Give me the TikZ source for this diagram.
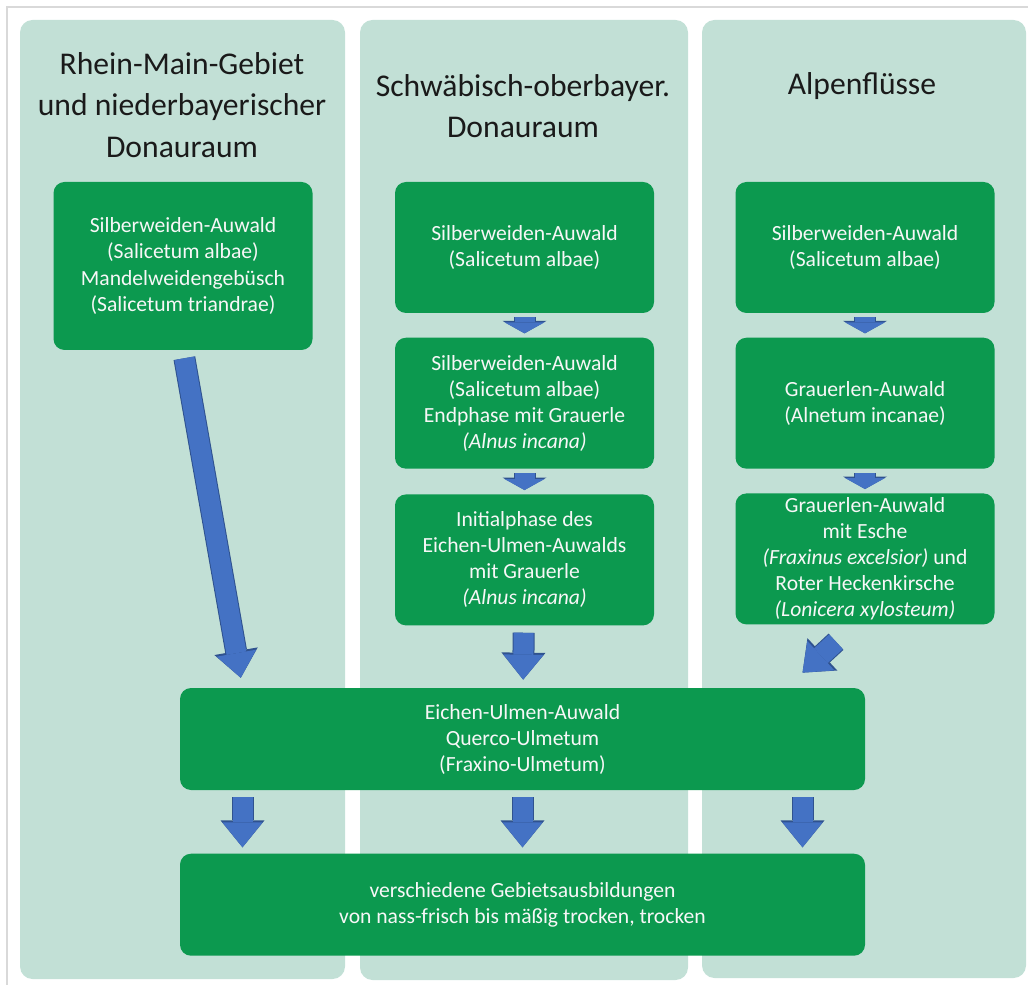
\documentclass[tikz,border=0pt]{standalone}
\usepackage{fontspec}
\setmainfont{Carlito}
\usepackage{xcolor}
\usetikzlibrary{arrows.meta,positioning}

\definecolor{colbg}{RGB}{194,224,214}
\definecolor{boxgreen}{RGB}{12,153,79}
\definecolor{arrblue}{RGB}{68,114,196}
\definecolor{arrdark}{RGB}{47,82,143}
\definecolor{titletext}{RGB}{26,26,26}

\begin{document}
\begin{tikzpicture}[
        col/.style={fill=colbg, rounded corners=0.25cm},
        title/.style={align=center, text=titletext, font=\fontsize{18}{23.5}\selectfont},
        box/.style={fill=boxgreen, rounded corners=0.22cm, text=white!94!gray, align=center, inner sep=0pt,
            font=\fontsize{12.3}{14.8}\selectfont, minimum width=5.18cm, minimum height=2.62cm},
        wide/.style={box, minimum width=13.7cm, minimum height=2.04cm},
        flow/.style={draw=arrblue, line width=0.4cm, -{Triangle[width=0.8cm,length=0.5cm,line width=0pt]},
            preaction={draw=arrdark, line width=0.44cm, -{Triangle[width=0.88cm,length=0.54cm,line width=0pt]}}},
        stepflow/.style={draw=arrblue, line width=0.4cm, -{Triangle[width=0.8cm,length=0.22cm,line width=0pt]},
            preaction={draw=arrdark, line width=0.44cm, -{Triangle[width=0.88cm,length=0.25cm,line width=0pt]}},
            shorten <=0.08cm, shorten >=0.08cm}
    ]
        \useasboundingbox (0,0) rectangle (20.56,-19.70);
        \draw[gray!30, line width=0.6pt] (20.56,-0.14) -- (0.14,-0.14) -- (0.14,-19.70);

        % columns
        \fill[col] (0.40,-0.40) rectangle (6.90,-19.58);
        \fill[col] (7.20,-0.40) rectangle (13.76,-19.60);
        \fill[col] (14.04,-0.40) rectangle (20.52,-19.56);

        \node[title] (t1) at (3.64,-2.10) {Rhein-Main-Gebiet\\und niederbayerischer\\Donauraum};
        \node[title] (t2) at (10.46,-2.12) {Schwäbisch-oberbayer.\\Donauraum};
        \node[title] (t3) at (17.24,-1.72) {Alpenflüsse};

        \node[box, minimum height=3.36cm] (rm) at (3.66,-5.32) {Silberweiden-Auwald\\(Salicetum albae)\\Mandelweidengebüsch\\(Salicetum triandrae)};

        \node[box] (sw1) at (10.49,-4.95) {Silberweiden-Auwald\\(Salicetum albae)};
        \node[box, below=0.48cm of sw1] (sw2) {Silberweiden-Auwald\\(Salicetum albae)\\Endphase mit Grauerle\\\textit{(Alnus incana)}};
        \node[box, below=0.50cm of sw2] (sw3) {Initialphase des\\Eichen-Ulmen-Auwalds\\mit Grauerle\\\textit{(Alnus incana)}};

        \node[box] (al1) at (17.30,-4.95) {Silberweiden-Auwald\\(Salicetum albae)};
        \node[box, below=0.48cm of al1] (al2) {Grauerlen-Auwald\\(Alnetum incanae)};
        \node[box, below=0.48cm of al2] (al3) {Grauerlen-Auwald\\mit Esche\\\textit{(Fraxinus excelsior)} und\\Roter Heckenkirsche\\\textit{(Lonicera xylosteum)}};

        \node[wide] (eu) at (10.45,-14.78) {Eichen-Ulmen-Auwald\\Querco-Ulmetum\\(Fraxino-Ulmetum)};
        \node[wide, below=1.26cm of eu] (geb) {verschiedene Gebietsausbildungen\\von nass-frisch bis mäßig trocken, trocken};

        \draw[stepflow] (sw1) -- (sw2);
        \draw[stepflow] (sw2) -- (sw3);
        \draw[stepflow] (al1) -- (al2);
        \draw[stepflow] (al2) -- (al3);

        \draw[flow, shorten <=0.16cm, shorten >=0.2cm] (rm.south) -- ([xshift=-5.6cm]eu.north);
        \draw[flow, shorten <=0.14cm, shorten >=0.16cm] (sw3) -- (eu);
        \draw[flow] ([xshift=-0.58cm,yshift=-0.34cm]al3.south) -- ([xshift=5.6cm,yshift=0.3cm]eu.north);

        \draw[flow, shorten <=0.14cm, shorten >=0.12cm] ([xshift=-5.6cm]eu.south) -- ([xshift=-5.6cm]geb.north);
        \draw[flow, shorten <=0.14cm, shorten >=0.12cm] (eu) -- (geb);
        \draw[flow, shorten <=0.14cm, shorten >=0.12cm] ([xshift=5.6cm]eu.south) -- ([xshift=5.6cm]geb.north);
    \end{tikzpicture}
\end{document}
